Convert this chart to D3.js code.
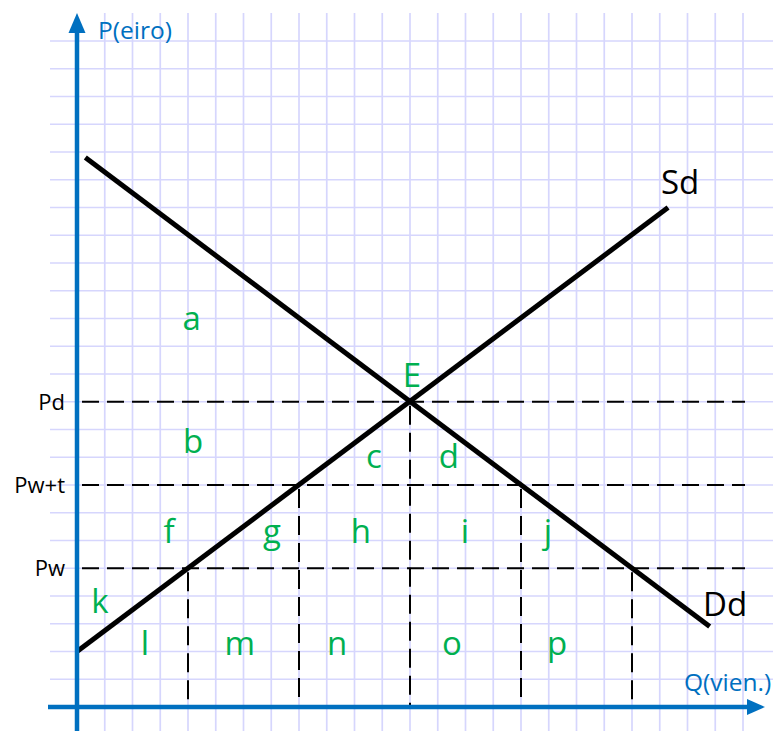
<!DOCTYPE html>
<html>
<head>
<meta charset="utf-8">
<script src="https://cdn.jsdelivr.net/npm/d3@7"></script>
<style>
  body { margin: 0; background: #fff; }
  svg { display: block; }
</style>
</head>
<body>
<svg id="chart" width="776" height="731"></svg>
<script>
// price levels (in grid units) and their labels
var priceLabels = ['Pd', 'Pw+t', 'Pw']
var priceValues = [11, 8, 5]

// quantities where the dashed verticals drop to the Q axis, and the price they start from
var dropQuantities = [4, 8, 12, 16, 20]
var dropPrices = [5, 8, 11, 8, 5]

// end points of the two curves
var supplyPoints = [[0, 2], [21.3, 18]]
var demandPoints = [[0.3, 19.8], [22.8, 2.9]]

// area letters: name, quantity, price (baseline)
var areaNames = ['a', 'b', 'c', 'd', 'E', 'f', 'g', 'h', 'i', 'j', 'k', 'l', 'm', 'n', 'o', 'p']
var areaQ = [4.13, 4.18, 10.7, 13.4, 12.07, 3.32, 7.03, 10.23, 13.98, 16.97, 0.83, 2.45, 5.87, 9.37, 13.51, 17.3]
var areaP = [13.59, 9.15, 8.61, 8.61, 11.53, 5.91, 5.91, 5.91, 5.91, 5.91, 3.39, 1.87, 1.87, 1.87, 1.87, 1.87]

var gridSteps = d3.range(1, 25)

let svg = d3.select('#chart')
let x = d3.scaleLinear().domain([0, 24]).range([77, 743])
let y = d3.scaleLinear().domain([0, 24]).range([707, 41])

let blue = '#0070c0'
let green = '#00b050'
let font = '"Open Sans", sans-serif'

// squared paper
let grid = svg.append('g').attr('stroke', '#d6d6fd').attr('stroke-width', 1.7)
grid.selectAll('line.h').data(gridSteps).enter().append('line')
  .attr('x1', 50).attr('x2', 773)
  .attr('y1', d => y(d)).attr('y2', d => y(d))
grid.selectAll('line.v').data(gridSteps).enter().append('line')
  .attr('y1', 13).attr('y2', 731)
  .attr('x1', d => x(d)).attr('x2', d => x(d))

// dashed price lines
svg.selectAll('line.price').data(priceValues).enter().append('line')
  .attr('x1', x(0) + 5).attr('x2', 745)
  .attr('y1', d => y(d)).attr('y2', d => y(d))
  .attr('stroke', '#000').attr('stroke-width', 2)
  .attr('stroke-dasharray', '17,8')

// dashed drops to the Q axis
svg.selectAll('line.drop').data(dropQuantities).enter().append('line')
  .attr('x1', d => x(d)).attr('x2', d => x(d))
  .attr('y1', (d, i) => y(dropPrices[i]) + 4).attr('y2', y(0))
  .attr('stroke', '#000').attr('stroke-width', 2)
  .attr('stroke-dasharray', '19,8')

// price labels
svg.selectAll('text.price').data(priceValues).enter().append('text')
  .attr('x', 65).attr('y', d => y(d) + 8)
  .attr('text-anchor', 'end')
  .style('font-family', font).style('font-size', '22px')
  .attr('fill', '#000')
  .text((d, i) => priceLabels[i])

// curves
let line = d3.line().x(d => x(d[0])).y(d => y(d[1]))
;[supplyPoints, demandPoints].forEach(pts => {
  svg.append('path').attr('d', line(pts))
    .attr('fill', 'none').attr('stroke', '#000').attr('stroke-width', 5)
})

svg.append('text').attr('x', 661).attr('y', 194)
  .style('font-family', font).style('font-size', '33px').text('Sd')
svg.append('text').attr('x', 703).attr('y', 616)
  .style('font-family', font).style('font-size', '33px').text('Dd')

// axes with arrows
svg.append('line').attr('x1', x(0)).attr('x2', x(0)).attr('y1', 731).attr('y2', 30)
  .attr('stroke', blue).attr('stroke-width', 4.5)
svg.append('line').attr('x1', 48).attr('x2', 750).attr('y1', y(0)).attr('y2', y(0))
  .attr('stroke', blue).attr('stroke-width', 4.5)
svg.append('path')
  .attr('d', `M${x(0)},13 L${x(0) + 8.5},33 L${x(0) - 8.5},33 Z`)
  .attr('fill', blue)
svg.append('path')
  .attr('d', `M765,${y(0)} L747,${y(0) - 8} L747,${y(0) + 8} Z`)
  .attr('fill', blue)

svg.append('text').attr('x', 98).attr('y', 39)
  .style('font-family', font).style('font-size', '24.5px').attr('fill', blue)
  .text('P(eiro)')
svg.append('text').attr('x', 684).attr('y', 691)
  .style('font-family', font).style('font-size', '24.5px').attr('fill', blue)
  .text('Q(vien.)')

// area letters
svg.selectAll('text.area').data(areaNames).enter().append('text')
  .attr('x', (d, i) => x(areaQ[i]))
  .attr('y', (d, i) => y(areaP[i]))
  .attr('text-anchor', 'middle')
  .style('font-family', font).style('font-size', '33px')
  .attr('fill', green)
  .text(d => d)
</script>
</body>
</html>
